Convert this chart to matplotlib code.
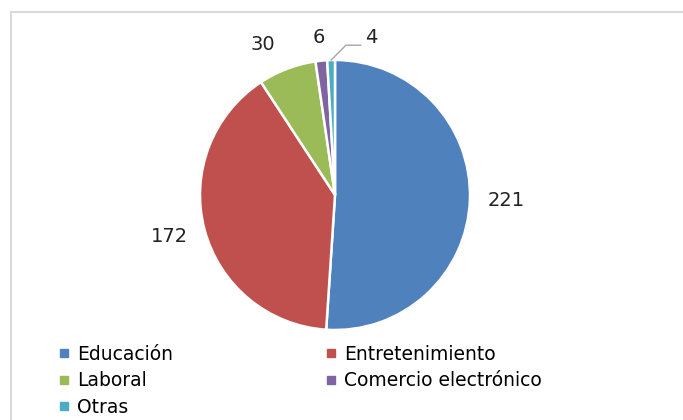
import matplotlib
matplotlib.use("Agg")
import matplotlib.pyplot as plt
from matplotlib.lines import Line2D
import numpy as np

categories = ["Educación", "Entretenimiento", "Laboral", "Comercio electrónico", "Otras"]
values = [221, 172, 30, 6, 4]
colors = ["#4F81BD", "#C0504D", "#9BBB59", "#8064A2", "#4BACC6"]

W, H = 683, 420
fig = plt.figure(figsize=(W / 100, H / 100), dpi=100)
fig.patch.set_facecolor("white")

cx, cy, r = 335, 195, 135
ax = fig.add_axes([(cx - r) / W, (H - cy - r) / H, 2 * r / W, 2 * r / H])
wedges, _ = ax.pie(values, colors=colors, startangle=90, counterclock=False,
                   radius=1.0, wedgeprops=dict(edgecolor="white", linewidth=1.8))
ax.set_xlim(-1, 1)
ax.set_ylim(-1, 1)
ax.set_aspect("equal")
ax.axis("off")

# label layout: radial distance and angular nudge (degrees)
label_dist = [1.27, 1.26, 1.235, 1.17, None]
label_nudge = [0, -0.8, 5.0, 0, 0]
for w, v, d, a in zip(wedges, values, label_dist, label_nudge):
    mid = np.deg2rad((w.theta1 + w.theta2) / 2 + a)
    if d is not None:
        ax.text(d * np.cos(mid), d * np.sin(mid), str(v), ha="center", va="center",
                fontsize=14, color="#222222", clip_on=False)
    else:
        x0, y0 = 1.0 * np.cos(mid), 1.0 * np.sin(mid)
        ax.plot([x0, x0 + 0.11, x0 + 0.22], [y0, y0 + 0.11, y0 + 0.11],
                color="#A6A6A6", lw=1.0, clip_on=False)
        ax.text(x0 + 0.3, y0 + 0.165, str(v), ha="center", va="center",
                fontsize=14, color="#222222", clip_on=False)

# legend laid out row-wise
order = [0, 2, 4, 1, 3]
handles = [Line2D([], [], marker="s", linestyle="none", markersize=6,
                  markerfacecolor=colors[i], markeredgecolor=colors[i]) for i in order]
labels = [categories[i] for i in order]
fig.legend(handles, labels, ncol=2, loc="upper left",
           bbox_to_anchor=(58 / W, 1 - 345 / H), frameon=False,
           fontsize=13.5, handlelength=0.6, handletextpad=0.4,
           columnspacing=8.15, labelspacing=0.4, borderpad=0, borderaxespad=0)

# chart-area border (left and top)
fig.add_artist(Line2D([11 / W, 11 / W], [0, 1 - 12 / H], transform=fig.transFigure,
                      color="#D9D9D9", lw=1.5))
fig.add_artist(Line2D([11 / W, 1], [1 - 12 / H, 1 - 12 / H], transform=fig.transFigure,
                      color="#D9D9D9", lw=1.5))

fig.savefig("out.png", dpi=100)
